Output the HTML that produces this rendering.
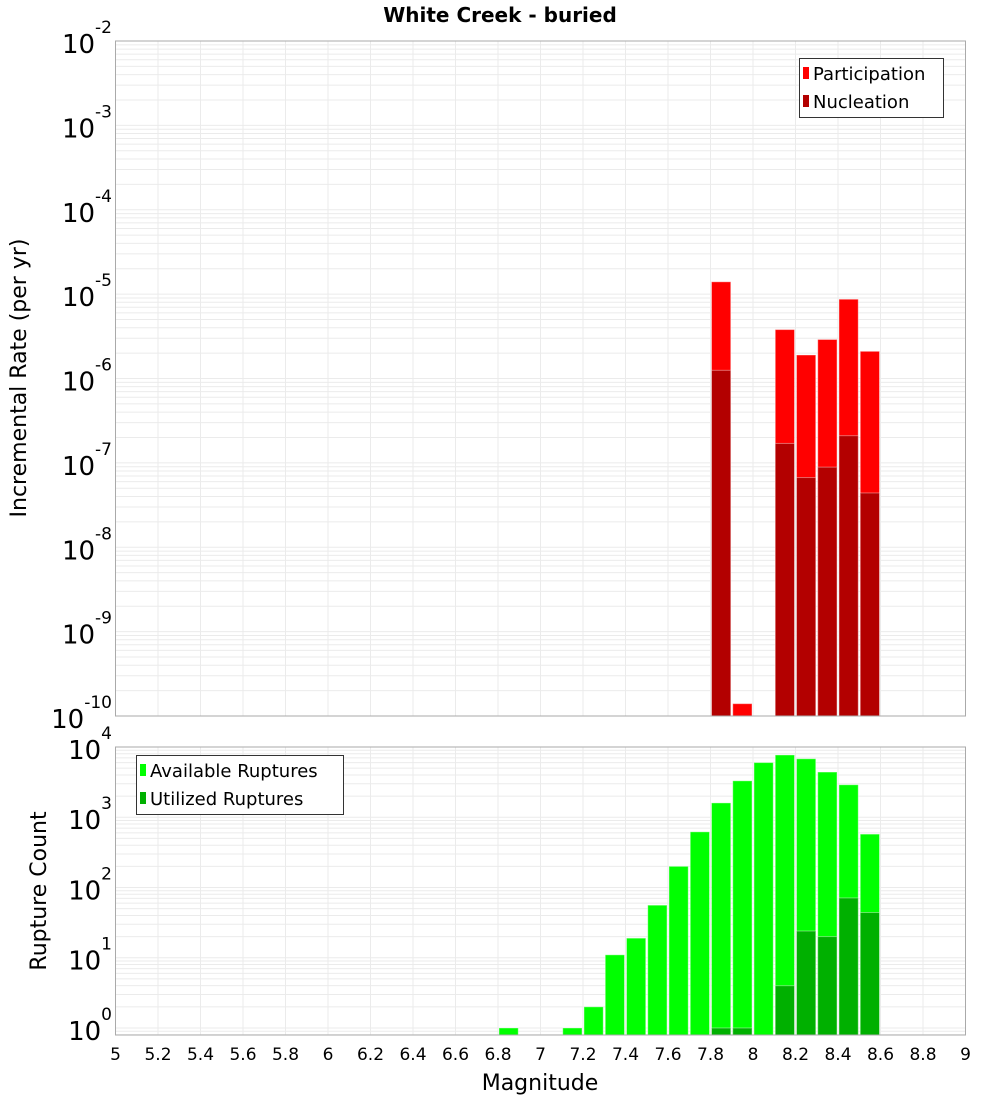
<!DOCTYPE html>
<html><head><meta charset="utf-8"><style>
body{margin:0;background:#fff}
svg text{font-family:"DejaVu Sans","Liberation Sans",sans-serif}
</style></head><body>
<svg id="c" width="1000" height="1100" xmlns="http://www.w3.org/2000/svg">
<text x="500" y="22" text-anchor="middle" font-size="20" font-weight="bold">White Creek - buried</text>
<g id="top"></g>
<g id="bot"></g>
<text transform="translate(26,378) rotate(-90)" text-anchor="middle" font-size="22">Incremental Rate (per yr)</text>
<text transform="translate(46,891) rotate(-90)" text-anchor="middle" font-size="22">Rupture Count</text>
<text x="540" y="1090" text-anchor="middle" font-size="22">Magnitude</text>
<g>
<rect x="799.5" y="58.5" width="144" height="59" fill="#fff" stroke="#333"/>
<rect x="803" y="67" width="6" height="12" fill="#ff0000"/><text x="813" y="80" font-size="18">Participation</text>
<rect x="803" y="95" width="6" height="12" fill="#b30000"/><text x="813" y="108" font-size="18">Nucleation</text>
</g>
<g>
<rect x="136.5" y="755.5" width="207" height="59" fill="#fff" stroke="#333"/>
<rect x="140" y="764" width="6" height="12" fill="#00ff00"/><text x="150" y="777" font-size="18">Available Ruptures</text>
<rect x="140" y="792" width="6" height="12" fill="#00b000"/><text x="150" y="805" font-size="18">Utilized Ruptures</text>
</g>
</svg>
<script>
const bins=[6.85,6.95,7.05,7.15,7.25,7.35,7.45,7.55,7.65,7.75,7.85,7.95,8.05,8.15,8.25,8.35,8.45,8.55];
const participation=[0,0,0,0,0,0,0,0,0,0,1.4e-5,1.4e-10,0,3.8e-6,1.9e-6,2.9e-6,8.7e-6,2.1e-6];
const nucleation=[0,0,0,0,0,0,0,0,0,0,1.25e-6,0,0,1.7e-7,6.7e-8,8.9e-8,2.1e-7,4.4e-8];
const available=[1,0,0,1,2,11,19,56,200,620,1600,3300,6000,7700,6800,4400,2900,575];
const utilized=[0,0,0,0,0,0,0,0,0,0,1,1,0,4,24,20,71,44];
const xTicks=[5,5.2,5.4,5.6,5.8,6,6.2,6.4,6.6,6.8,7,7.2,7.4,7.6,7.8,8,8.2,8.4,8.6,8.8,9];
const topDecades=[-2,-3,-4,-5,-6,-7,-8,-9,-10];
const botDecades=[4,3,2,1,0];
const NS="http://www.w3.org/2000/svg";
const L=115.5,R=965.5;
const xs=m=>L+(m-5)/4*(R-L);
function mk(p,t,a){const e=document.createElementNS(NS,t);for(const k in a)e.setAttribute(k,a[k]);p.appendChild(e);return e;}
function panel(g,T,B,lmin,lmax,decs,series,colors,names,pname){
  const ys=v=>B-(Math.log10(v)-lmin)/(lmax-lmin)*(B-T);
  for(let d=Math.floor(lmin);d<lmax;d++)for(let k=1;k<10;k++){const v=k*Math.pow(10,d);const y=ys(v);if(y<T-0.1||y>B+0.1)continue;
    const l=mk(g,'line',{x1:L,x2:R,y1:y,y2:y,stroke:'#ebebeb','stroke-width':1});
    
    }
  xTicks.forEach(t=>{const l=mk(g,'line',{x1:xs(t),x2:xs(t),y1:T,y2:B,stroke:'#ebebeb'});
    
    });
  series.forEach((s,si)=>{s.forEach((v,i)=>{if(!(v>0))return;const y=ys(v);const x0=xs(bins[i]-0.05)+1,x1=xs(bins[i]+0.05)-1;
    const r=mk(g,'rect',{x:x0,y:y,width:x1-x0,height:B-y,fill:colors[si],stroke:'#fff','stroke-opacity':0.4});
    
    });});
  const b=mk(g,'rect',{x:L,y:T,width:R-L,height:B-T,fill:'none',stroke:'#aaa'});
  
  
  decs.forEach(d=>{const y=ys(Math.pow(10,d));const t=mk(g,'text',{x:112,y:y+12,'text-anchor':'end','font-size':26});
    
    
    t.textContent='10';const s=mk(t,'tspan',{dy:-20,'font-size':17});s.textContent=String(d);
    const tk=mk(g,'line',{x1:L-0,x2:L,y1:y,y2:y,stroke:'#aaa'});});
}
panel(document.getElementById('top'),41,716,-10,-2,topDecades,[participation,nucleation],['#ff0000','#b30000'],['participation','nucleation'],'rate');
panel(document.getElementById('bot'),747,1035,-0.1,4,botDecades,[available,utilized],['#00ff00','#00b000'],['available','utilized'],'count');
const g=document.getElementById('bot');
xTicks.forEach(t=>{const e=mk(g,'text',{x:xs(t),y:1060,'text-anchor':'middle','font-size':17});
  
  
  e.textContent=String(t);});
</script>
</body></html>
